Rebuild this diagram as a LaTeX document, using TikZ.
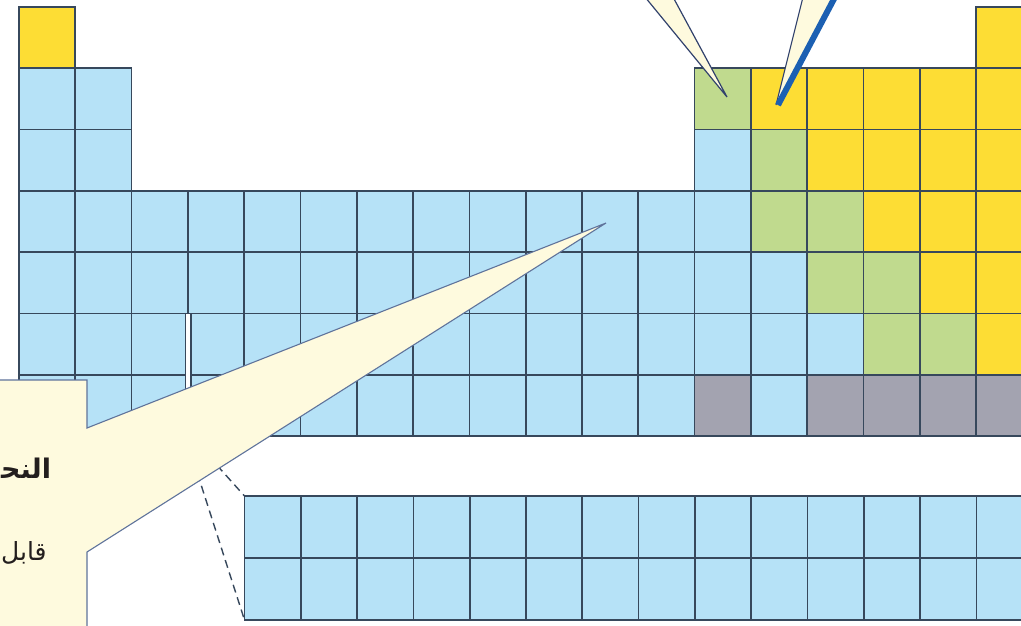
\documentclass[tikz,border=0pt]{standalone}
\usepackage{fontspec}
\newfontfamily\arabicfont[Script=Arabic]{DejaVu Sans}
\TeXXeTstate=1
\definecolor{cB}{RGB}{182,226,247}
\definecolor{cY}{RGB}{253,221,52}
\definecolor{cG}{RGB}{192,218,142}
\definecolor{cR}{RGB}{163,163,176}
\definecolor{gridc}{RGB}{55,72,92}
\definecolor{cream}{RGB}{254,250,222}
\definecolor{edgec}{RGB}{95,115,155}
\definecolor{thickblue}{RGB}{28,96,178}
\definecolor{txt}{RGB}{35,30,30}
\tikzset{
  cell/.style={draw=gridc, line width=1.7pt, anchor=north west, minimum width=56.3pt, minimum height=61.3pt, inner sep=0pt, outer sep=0pt},
  lcell/.style={cell, fill=cB, minimum height=62pt},
  gapstrip/.style={draw=gridc, line width=1.4pt, fill=white, anchor=north west, minimum width=5.5pt, minimum height=123pt, inner sep=0pt, outer sep=0pt},
  guide/.style={draw=gridc, line width=1.4pt, dash pattern=on 8pt off 5pt},
  callout/.style={fill=cream, draw=edgec, line width=1.1pt, line join=miter},
  arlabel/.style={anchor=west, text=txt, inner sep=0pt}
}
\begin{document}
\begin{tikzpicture}[x=1pt,y=-1pt]
\useasboundingbox (0,0) rectangle (1021,625);
\clip (0,0) rectangle (1021,625);
\fill[white] (0,0) rectangle (1021,625);
% main table
\foreach \r/\c/\k in {
  1/1/Y, 1/18/Y,
  2/1/B, 2/2/B, 2/13/G, 2/14/Y, 2/15/Y, 2/16/Y, 2/17/Y, 2/18/Y,
  3/1/B, 3/2/B, 3/13/B, 3/14/G, 3/15/Y, 3/16/Y, 3/17/Y, 3/18/Y,
  4/13/B, 4/14/G, 4/15/G, 4/16/Y, 4/17/Y, 4/18/Y,
  5/13/B, 5/14/B, 5/15/G, 5/16/G, 5/17/Y, 5/18/Y,
  6/13/B, 6/14/B, 6/15/B, 6/16/G, 6/17/G, 6/18/Y,
  7/13/R, 7/14/B, 7/15/R, 7/16/R, 7/17/R, 7/18/R}
  \node[cell, fill=c\k] (c-\r-\c) at ({19+(\c-1)*56.3},{7+(\r-1)*61.3}) {};
\foreach \r in {4,...,7}
  \foreach \c in {1,...,12}
    \node[cell, fill=cB] (c-\r-\c) at ({19+(\c-1)*56.3},{7+(\r-1)*61.3}) {};
% gap in group 3
\node[gapstrip] (gap) at (185.5,313.3) {};
% lanthanides / actinides
\foreach \r in {1,2}
  \foreach \c in {1,...,14}
    \node[lcell] (l-\r-\c) at ({244.5+(\c-1)*56.3},{496+(\r-1)*62}) {};
% dashed guides
\draw[guide] (gap.south west) -- (l-2-1.south west);
\draw[guide] (gap.south east) -- (l-1-1.north west);
% big callout
\coordinate (tipA) at (606,223);
\path[callout] (-5,380) -- (87,380) -- (87,428) -- (tipA) -- (87,552) -- (87,632) -- (-5,632) -- cycle;
\node[arlabel, font=\arabicfont\bfseries\fontsize{27}{32}\selectfont] (t1) at (1,468) {\beginR النح^^^^200d\endR};
\node[arlabel, font=\arabicfont\fontsize{25}{30}\selectfont] (t2) at (1,553) {\beginR قابل\endR};
% top callouts
\coordinate (tipB) at (727,97);
\coordinate (tipC) at (776,105);
\path[fill=cream, draw=gridc!90!blue, line width=1.2pt] (645,-3) -- (tipB) -- (673,-3);
\fill[cream] (803,-3) -- (tipC) -- (836,-3) -- cycle;
\draw[gridc!90!blue, line width=1.1pt] (803,-3) -- (tipC);
\draw[thickblue, line width=6pt] (835,-3) -- ([xshift=2pt]tipC);
\end{tikzpicture}
\end{document}
